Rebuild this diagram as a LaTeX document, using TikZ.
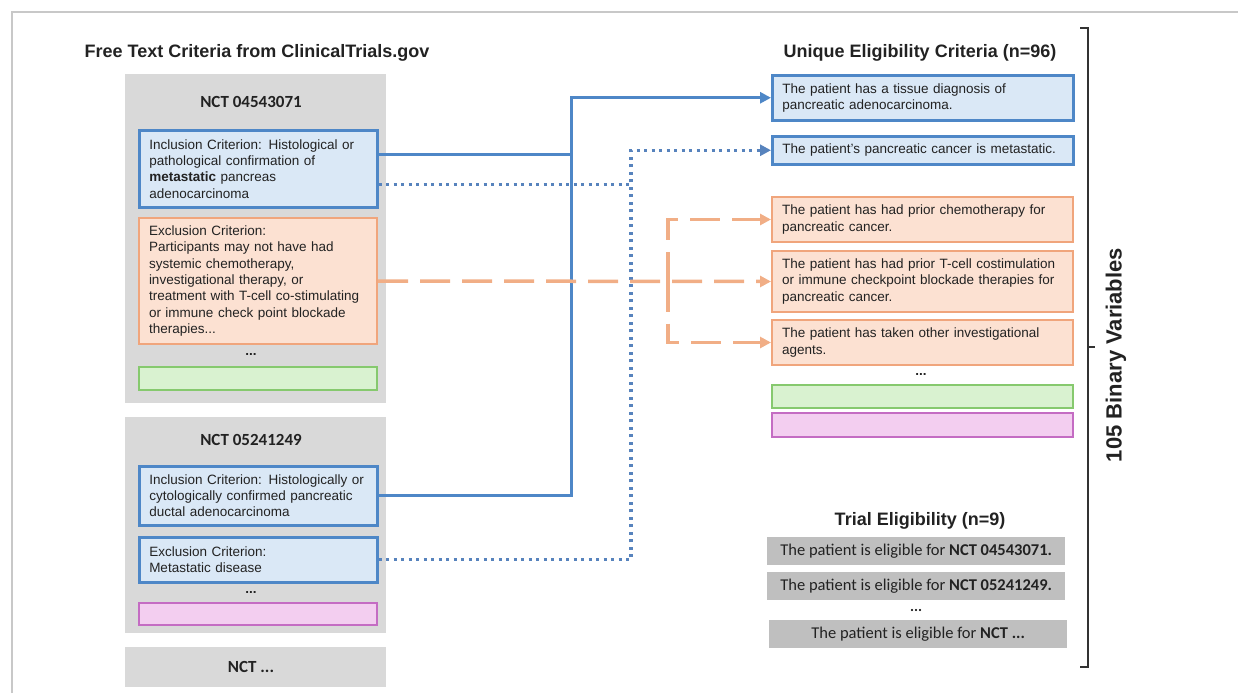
\documentclass[tikz,border=0pt]{standalone}
\usepackage{fontspec}
\setmainfont{Liberation Sans}
\newfontfamily\aptos{Carlito}
\usetikzlibrary{arrows.meta}

\definecolor{critblue}{HTML}{DAE8F6}
\definecolor{edgeblue}{HTML}{4E87C7}
\definecolor{dotblue}{HTML}{5783BD}
\definecolor{critorange}{HTML}{FCE1D2}
\definecolor{edgeorange}{HTML}{F0A57C}
\definecolor{dashorange}{HTML}{F1AE86}
\definecolor{critgreen}{HTML}{D9F2D0}
\definecolor{edgegreen}{HTML}{86C96E}
\definecolor{critpink}{HTML}{F3CEF0}
\definecolor{edgepink}{HTML}{C46CC3}
\definecolor{panelgray}{HTML}{D9D9D9}
\definecolor{rowgray}{HTML}{BFBFBF}
\definecolor{framegray}{HTML}{C8C8C8}
\definecolor{textgray}{HTML}{222222}

\begin{document}
\begin{tikzpicture}[x=1pt,y=-1pt,
   every node/.style={inner sep=0pt, text=textgray},
   crit/.style={draw, line width=2pt, anchor=north west, inner xsep=10pt,
      align=left, font=\fontsize{13.5}{16.3}\selectfont},
   lcrit/.style={crit, minimum width=238pt, text width=218pt},
   rcrit/.style={crit, minimum width=301pt, text width=281pt},
   blue crit/.style={fill=critblue, draw=edgeblue, line width=2.5pt},
   orange crit/.style={fill=critorange, draw=edgeorange},
   green crit/.style={fill=critgreen, draw=edgegreen},
   pink crit/.style={fill=critpink, draw=edgepink},
   panel/.style={fill=panelgray, anchor=north west, minimum width=261pt},
   nct/.style={font=\aptos\fontsize{17}{20}\selectfont\bfseries},
   heading/.style={font=\fontsize{18}{21}\selectfont\bfseries},
   more/.style={font=\fontsize{13.5}{16}\selectfont\bfseries},
   trialrow/.style={fill=rowgray, anchor=north west, minimum width=298pt,
      minimum height=28pt, font=\aptos\fontsize{16.5}{19}\selectfont},
   link/.style={line width=3pt, -{Triangle[length=11pt,width=11pt]}},
   solid link/.style={link, edgeblue},
   dot link/.style={link, dotblue, line width=3.2pt, dash pattern=on 3.2pt off 4.3pt},
   dash link/.style={link, dashorange, line width=3.5pt, dash pattern=on 30pt off 12pt}]

\useasboundingbox (0,0) rectangle (1238,693);
\draw[framegray, line width=2pt] (12,693) -- (12,12) -- (1238,12);

% free text criteria
\node[heading] (freetitle) at (257,53) {Free Text Criteria from ClinicalTrials.gov};

\node[panel, minimum height=329pt] (trialA) at (125,74) {};
\node[nct] (nctA) at (251,102) {NCT 04543071};
\node[lcrit, blue crit, minimum height=77pt] (incA) at (138,129)
   {Inclusion Criterion: Histological or\\pathological confirmation of\\\textbf{metastatic} pancreas\\adenocarcinoma};
\node[lcrit, orange crit, minimum height=126pt] (excA) at (138,217)
   {Exclusion Criterion:\\Participants may not have had\\systemic chemotherapy,\\investigational therapy, or\\treatment with T-cell co-stimulating\\or immune check point blockade\\therapies...};
\node[more] (moreA) at (251,354) {...};
\node[lcrit, green crit, minimum height=23pt] (restA) at (138,366) {};

\node[panel, minimum height=216pt] (trialB) at (125,417) {};
\node[nct] (nctB) at (251,440) {NCT 05241249};
\node[lcrit, blue crit, minimum height=59pt] (incB) at (138,465)
   {Inclusion Criterion: Histologically or\\cytologically confirmed pancreatic\\ductal adenocarcinoma};
\node[lcrit, blue crit, minimum height=45pt] (excB) at (138,536)
   {Exclusion Criterion:\\Metastatic disease};
\node[more] (moreB) at (251,592) {...};
\node[lcrit, pink crit, minimum height=22pt] (restB) at (138,602) {};

\node[panel, minimum height=40pt] (trialC) at (125,647) {};
\node[nct] (nctC) at (251,667) {NCT ...};

% unique criteria
\node[heading] (uniqtitle) at (920,53) {Unique Eligibility Criteria (n=96)};
\node[rcrit, blue crit, minimum height=45pt] (tissue) at (771,74)
   {The patient has a tissue diagnosis of\\pancreatic adenocarcinoma.};
\node[rcrit, blue crit, minimum height=28pt] (metast) at (771,135)
   {The patient’s pancreatic cancer is metastatic.};
\node[rcrit, orange crit, minimum height=45pt] (chemo) at (771,196)
   {The patient has had prior chemotherapy for\\pancreatic cancer.};
\node[rcrit, orange crit, minimum height=61pt] (tcell) at (771,250)
   {The patient has had prior T-cell costimulation\\or immune checkpoint blockade therapies for\\pancreatic cancer.};
\node[rcrit, orange crit, minimum height=45pt] (invest) at (771,319)
   {The patient has taken other investigational\\agents.};
\node[more] (moreU) at (921,374) {...};
\node[rcrit, green crit, minimum height=23pt] (restU) at (771,384) {};
\node[rcrit, pink crit, minimum height=24pt] (restV) at (771,412) {};

% trial eligibility
\node[heading] (trialtitle) at (920,521) {Trial Eligibility (n=9)};
\node[trialrow] (eligA) at (767,537) {The patient is eligible for \textbf{NCT 04543071.}};
\node[trialrow] (eligB) at (767,572) {The patient is eligible for \textbf{NCT 05241249.}};
\node[more, font=\aptos\fontsize{15}{18}\selectfont\bfseries] (moreT) at (916,610) {...};
\node[trialrow] (eligC) at (769,620) {The patient is eligible for \textbf{NCT ...}};

% brace
\draw[line width=1.5pt, black!80] (1080,28) -- (1088,28) -- (1088,667) -- (1080,667);
\draw[line width=1.5pt, black!80] (1088,347) -- (1095,347);
\node[font=\fontsize{22}{26}\selectfont\bfseries, rotate=90] (binvars) at (1116,355) {105 Binary Variables};

% links
\coordinate (solidbus) at (571,0);
\coordinate (dotbus) at (631,0);
\coordinate (dashbus) at (668,0);

\draw[solid link] (incB.east) -| (solidbus |- tissue.west) -- (tissue.west);
\draw[solid link, -] (incA.east) ++(0,-14.5) coordinate (incAout) -- (incAout -| solidbus);
\draw[dot link] (excB.east) -| (dotbus |- metast.west) -- (metast.west);
\draw[dot link, -] (incA.east) ++(0,15.5) coordinate (incAdot) -- (incAdot -| dotbus);
\draw[dash link] (excA.east) -- (tcell.west);
\draw[dash link] (dashbus |- tcell.west) |- (chemo.west);
\draw[dash link] (dashbus |- tcell.west) |- (invest.west);

\end{tikzpicture}
\end{document}
